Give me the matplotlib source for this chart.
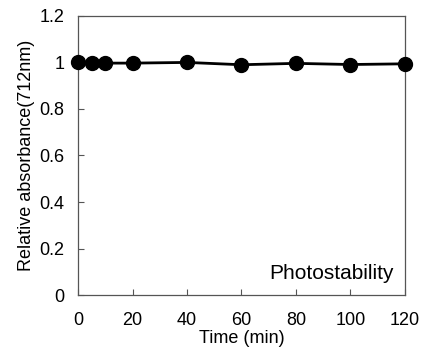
import matplotlib
matplotlib.use("Agg")
import matplotlib.pyplot as plt

plt.rcParams["font.family"] = ["Liberation Sans", "DejaVu Sans"]

# data
time_min = [0, 5, 10, 20, 40, 60, 80, 100, 120]
rel_abs = [1.0, 0.998, 0.997, 0.997, 1.0, 0.99, 0.996, 0.991, 0.994]

fig = plt.figure(figsize=(4.27, 3.53), dpi=100)
ax = fig.add_axes([0.183, 0.164, 0.765, 0.791])

ax.plot(time_min, rel_abs, color="black", lw=2, marker="o", ms=10,
        clip_on=False, zorder=3)

ax.set_xlim(0, 120)
ax.set_ylim(0, 1.2)
ax.set_xticks(range(0, 121, 20))
ax.set_yticks([0, 0.2, 0.4, 0.6, 0.8, 1.0, 1.2])
ax.set_yticklabels(["0", "0.2", "0.4", "0.6", "0.8", "1", "1.2"])
ax.tick_params(direction="in", length=4, labelsize=13, color="#555555")
ax.tick_params(axis="y", pad=10)
ax.tick_params(axis="x", pad=12)
for s in ax.spines.values():
    s.set_color("#555555")
    s.set_linewidth(0.9)

ax.set_xlabel("Time (min)", fontsize=13, labelpad=1)
ax.set_ylabel("Relative absorbance(712nm)", fontsize=13, labelpad=3)
ax.text(0.965, 0.045, "Photostability", transform=ax.transAxes,
        ha="right", va="bottom", fontsize=15)

fig.savefig("out.png", dpi=100)
